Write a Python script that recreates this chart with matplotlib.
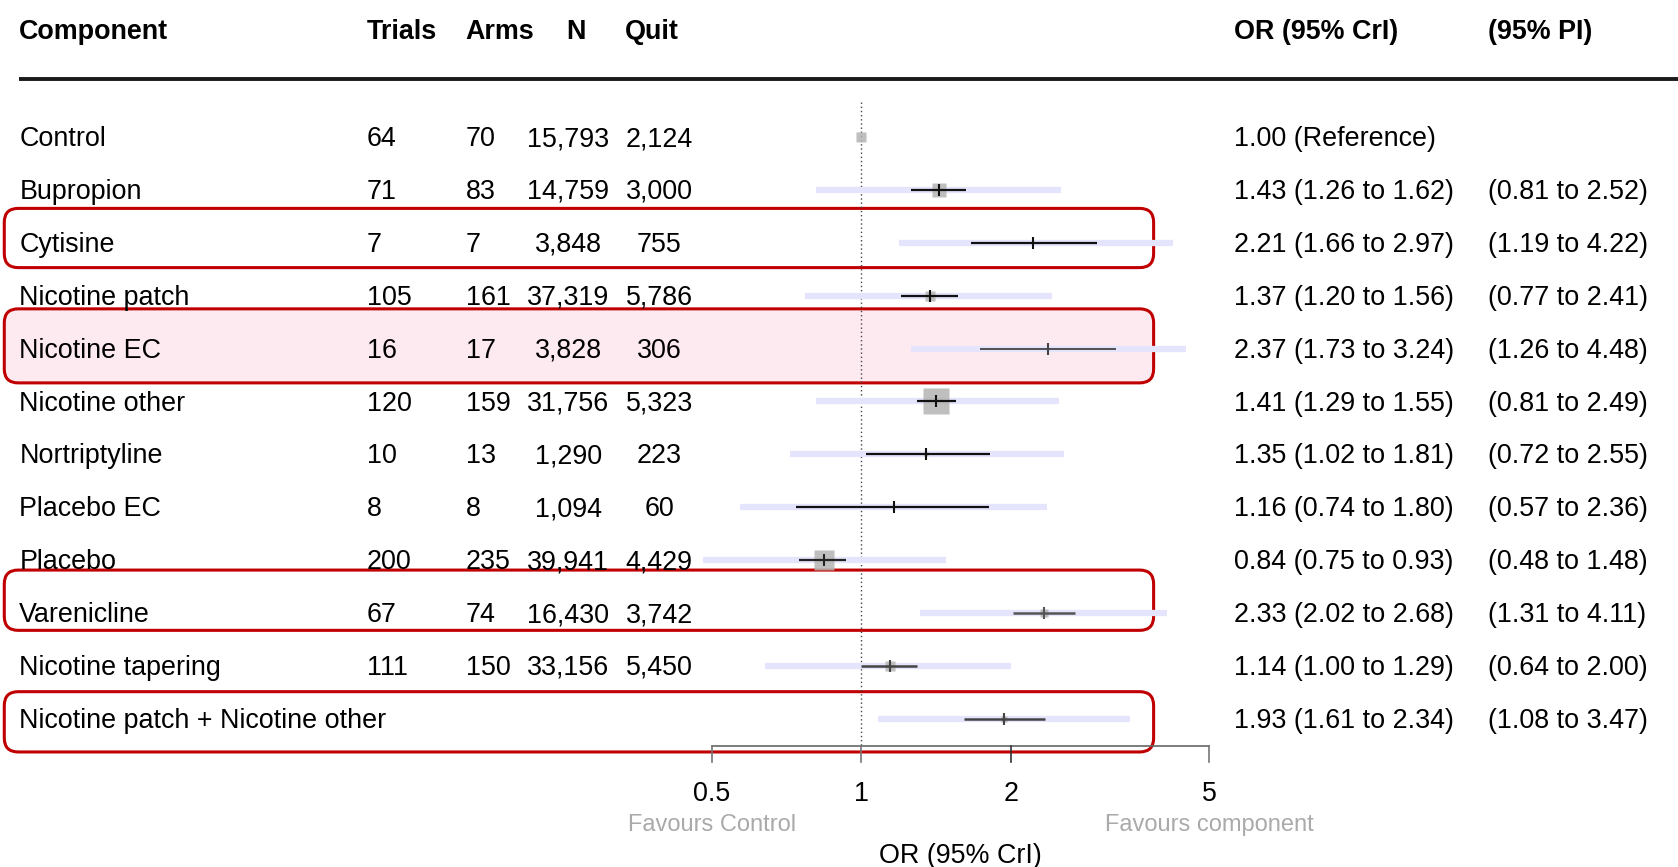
import matplotlib
matplotlib.use("Agg")
import matplotlib.pyplot as plt
from matplotlib.patches import FancyBboxPatch
import numpy as np

plt.rcParams['font.family'] = ['Liberation Sans', 'DejaVu Sans']

# ---- data ----
components = ["Control", "Bupropion", "Cytisine", "Nicotine patch", "Nicotine EC",
              "Nicotine other", "Nortriptyline", "Placebo EC", "Placebo", "Varenicline",
              "Nicotine tapering", "Nicotine patch + Nicotine other"]
trials = [64, 71, 7, 105, 16, 120, 10, 8, 200, 67, 111, None]
arms = [70, 83, 7, 161, 17, 159, 13, 8, 235, 74, 150, None]
n_total = [15793, 14759, 3848, 37319, 3828, 31756, 1290, 1094, 39941, 16430, 33156, None]
n_quit = [2124, 3000, 755, 5786, 306, 5323, 223, 60, 4429, 3742, 5450, None]
or_est = [1.00, 1.43, 2.21, 1.37, 2.37, 1.41, 1.35, 1.16, 0.84, 2.33, 1.14, 1.93]
cri_lo = [None, 1.26, 1.66, 1.20, 1.73, 1.29, 1.02, 0.74, 0.75, 2.02, 1.00, 1.61]
cri_hi = [None, 1.62, 2.97, 1.56, 3.24, 1.55, 1.81, 1.80, 0.93, 2.68, 1.29, 2.34]
pi_lo = [None, 0.81, 1.19, 0.77, 1.26, 0.81, 0.72, 0.57, 0.48, 1.31, 0.64, 1.08]
pi_hi = [None, 2.52, 4.22, 2.41, 4.48, 2.49, 2.55, 2.36, 1.48, 4.11, 2.00, 3.47]
highlighted = ["Cytisine", "Nicotine EC", "Varenicline", "Nicotine patch + Nicotine other"]
axis_ticks = [0.5, 1, 2, 5]

# ---- styling (weight boxes and line shades as they appear) ----
box_px = [10, 13, 0, 10, 0, 24, 3, 0, 19, 7, 10, 5]
line_col = ["k", "#111111", "#111111", "#111111", "#444444", "#111111",
            "#111111", "#111111", "#222222", "#555555", "#444444", "#444444"]
line_w = [1.6, 1.6, 1.6, 1.6, 1.3, 1.6, 1.6, 1.6, 1.6, 1.8, 1.8, 1.8]
# vertical extents of the red boxes, in rows (top offset, bottom offset)
box_extent = {"Cytisine": (-0.65, 0.47), "Nicotine EC": (-0.75, 0.65),
              "Varenicline": (-0.81, 0.33), "Nicotine patch + Nicotine other": (-0.51, 0.63)}

W, H = 1568.0, 810.0          # layout grid used for positioning
X1, DEC = 805.0, 465.0        # position of OR=1 and width of one decade
ROW0, ROWH = 128.0, 49.4      # first row centre and row spacing
FS = 19.4
TOFF = 0.04                   # small downward nudge of row text

fig = plt.figure(figsize=(16.78, 8.67), dpi=100)
ax = fig.add_axes([0, 0, 1, 1])
ax.set_xscale('log')
ax.set_xlim(10 ** (-X1 / DEC), 10 ** ((W - X1) / DEC))
ax.set_ylim((H - ROW0) / ROWH, -ROW0 / ROWH)
ax.axis('off')


def fx(p):
    return p / W


def fy(p):
    return 1 - p / H


def yrow(p):
    return (p - ROW0) / ROWH


tr = ax.get_yaxis_transform()   # x axes fraction, y data rows
rows = np.arange(len(components))

# red highlight boxes
for name, (t, b) in box_extent.items():
    r = components.index(name)
    face = '#fdeaf0' if name == "Nicotine EC" else 'none'
    y_top = fy(ROW0 + (r + t) * ROWH)
    y_bot = fy(ROW0 + (r + b) * ROWH)
    patch = FancyBboxPatch((fx(4), y_bot), fx(1078) - fx(4), y_top - y_bot,
                           boxstyle="round,pad=0,rounding_size=%f" % fx(13),
                           mutation_aspect=W / H,
                           transform=ax.transAxes, facecolor=face,
                           edgecolor='#c00000', lw=2.2, zorder=1)
    ax.add_patch(patch)

# header
hy = fy(30)
hdr = dict(transform=ax.transAxes, fontsize=FS, fontweight='bold', va='center')
ax.text(fx(18), hy, "Component", **hdr)
ax.text(fx(343), hy, "Trials", **hdr)
ax.text(fx(435), hy, "Arms", **hdr)
ax.text(fx(538), hy, "N", ha='center', **hdr)
ax.text(fx(584), hy, "Quit", **hdr)
ax.text(fx(1153), hy, "OR (95% CrI)", **hdr)
ax.text(fx(1390), hy, "(95% PI)", **hdr)
ax.plot([fx(18), 1], [fy(74), fy(74)], transform=ax.transAxes, color='#1a1a1a', lw=2.8,
        solid_capstyle='butt', clip_on=False)

# reference line at OR = 1
ax.plot([1, 1], [yrow(95), yrow(697)], color='#444444', lw=1.0, ls=(0, (1, 2)), zorder=2)

# table text and forest marks
for i, r in enumerate(rows):
    ty = r + TOFF
    ax.text(fx(18), ty, components[i], transform=tr, fontsize=FS, va='center')
    if trials[i] is not None:
        ax.text(fx(343), ty, str(trials[i]), transform=tr, fontsize=FS, va='center')
        ax.text(fx(435), ty, str(arms[i]), transform=tr, fontsize=FS, va='center')
        ax.text(fx(531), ty, f"{n_total[i]:,}", transform=tr, fontsize=FS, va='center', ha='center')
        ax.text(fx(616), ty, f"{n_quit[i]:,}", transform=tr, fontsize=FS, va='center', ha='center')
    if cri_lo[i] is None:
        ax.text(fx(1153), ty, f"{or_est[i]:.2f} (Reference)", transform=tr, fontsize=FS, va='center')
    else:
        ax.text(fx(1153), ty, f"{or_est[i]:.2f} ({cri_lo[i]:.2f} to {cri_hi[i]:.2f})",
                transform=tr, fontsize=FS, va='center')
        ax.text(fx(1390), ty, f"({pi_lo[i]:.2f} to {pi_hi[i]:.2f})",
                transform=tr, fontsize=FS, va='center')
        ax.plot([pi_lo[i], pi_hi[i]], [r, r], color='#e4e4fc', lw=4.5,
                solid_capstyle='butt', zorder=2)
        ax.plot([cri_lo[i], cri_hi[i]], [r, r], color=line_col[i], lw=line_w[i],
                solid_capstyle='butt', zorder=4)
        ax.plot([or_est[i]], [r], marker='|', ms=9, mew=1.5, color=line_col[i], zorder=5)
    if box_px[i] > 0:
        ax.plot([or_est[i]], [r], marker='s', ms=box_px[i] * 0.77, color='#b4b4b4',
                mec='none', alpha=0.85, zorder=3)

# x axis
ya = yrow(697)
ax.plot([axis_ticks[0], axis_ticks[-1]], [ya, ya], color='#666666', lw=1.2, zorder=2)
for t in axis_ticks:
    ax.plot([t, t], [ya, yrow(712)], color='#333333' if t == 2 else '#777777', lw=1.2)
    ax.text(t, yrow(742), f"{t:g}", fontsize=FS, ha='center', va='center')
ax.text(axis_ticks[0], yrow(771), "Favours Control", fontsize=17, color='#aaaaaa',
        ha='center', va='center')
ax.text(axis_ticks[-1], yrow(771), "Favours component", fontsize=17, color='#aaaaaa',
        ha='center', va='center')
ax.text(np.sqrt(axis_ticks[0] * axis_ticks[-1]), yrow(800), "OR (95% CrI)", fontsize=FS,
        ha='center', va='center')

fig.savefig("out.png", dpi=100, facecolor='white')
